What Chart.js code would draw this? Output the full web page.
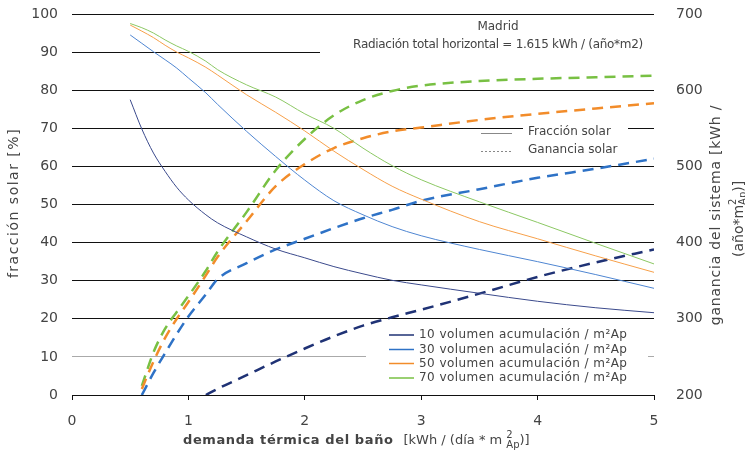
<!DOCTYPE html>
<html>
<head>
<meta charset="utf-8">
<script src="https://cdn.jsdelivr.net/npm/chart.js@4"></script>
<style>
  body { margin: 0; background: #fff; }
  #wrap { width: 745px; height: 456px; }
</style>
</head>
<body>
<div id="wrap"><canvas id="grafico"></canvas></div>
<script>
// demanda térmica del baño [kWh/(día*m2Ap)]
const demanda = [0.5, 0.6, 0.7, 0.8, 0.9, 1.0, 1.15, 1.25, 1.5, 1.75, 2.0, 2.25, 2.5, 2.75, 3.0, 3.5, 4.0, 4.5, 5.0];

// fracción solar [%] (eje izquierdo)
const fraccion10 = [77.5, 69.8, 63.5, 58.7, 54.5, 51.2, 47.3, 45.2, 41.5, 38.3, 36.0, 33.7, 31.8, 30.1, 28.9, 26.7, 24.6, 22.9, 21.6];
const fraccion30 = [94.5, 92.3, 90.1, 88, 85.8, 83.2, 79.3, 76.3, 69.2, 62.6, 56.4, 51, 47.3, 44.2, 41.8, 38.2, 35.0, 31.6, 28.0];
const fraccion50 = [97.1, 95.5, 93.8, 91.8, 90, 88.5, 86, 84, 78.8, 74.2, 69.3, 64, 59.2, 54.8, 51.4, 45.5, 41.0, 36.5, 32.2];
const fraccion70 = [97.5, 96.4, 95, 93.2, 91.6, 90.2, 87.6, 85.4, 81.4, 78.2, 73.8, 70, 64.8, 60.2, 56.5, 50.7, 45.3, 39.8, 34.4];

// ganancia del sistema [kWh/(año*m2Ap)] (eje derecho)
const ganancia10 = [null, null, null, null, null, null, 200, 208, 226, 244, 261, 277, 291, 302, 312, 333, 355, 374, 391];
const ganancia30 = [null, 200, 229, 255, 280, 303, 332, 352, 373, 391, 405, 419, 432, 443, 455, 470, 485, 497, 510];
const ganancia50 = [null, 208, 244, 275, 300, 322, 357, 381, 428, 474, 503, 524, 537, 546, 551, 561, 569, 576, 583];
const ganancia70 = [null, 212, 256, 287, 309, 330, 363, 388, 440, 495, 536, 567, 587, 599, 606, 612, 615, 617, 619];

const volumenes = ['10', '30', '50', '70'];
const coloresSolido = ['#3b4a8c', '#4f86d2', '#f7a04a', '#8cc864'];
const coloresDiscont = ['#1f3275', '#2e72c6', '#f28c2a', '#78c043'];

const xTicks = [0, 1, 2, 3, 4, 5];

const FUENTE = '"DejaVu Sans", sans-serif';
const GRIS = '#444';

function puntos(vals) {
    return demanda.map((x, i) => ({ x: x, y: vals[i] }));
}

const fracciones = [fraccion10, fraccion30, fraccion50, fraccion70];
const ganancias = [ganancia10, ganancia30, ganancia50, ganancia70];

const datasets = [];
fracciones.forEach((f, i) => {
    datasets.push({
        label: volumenes[i] + ' fracción',
        data: puntos(f),
        yAxisID: 'y',
        borderColor: coloresSolido[i],
        borderWidth: 1,
        pointRadius: 0,
        cubicInterpolationMode: 'monotone',
        fill: false
    });
});
ganancias.forEach((g, i) => {
    datasets.push({
        label: volumenes[i] + ' ganancia',
        data: puntos(g),
        yAxisID: 'y2',
        borderColor: coloresDiscont[i],
        borderWidth: 2.5,
        borderDash: [11, 7],
        pointRadius: 0,
        cubicInterpolationMode: 'monotone',
        fill: false
    });
});

// tapa las líneas de rejilla detrás de los textos
const tapas = {
    id: 'tapas',
    beforeDatasetsDraw(chart) {
        const ctx = chart.ctx;
        ctx.save();
        ctx.fillStyle = '#fff';
        ctx.fillRect(320, 17, 345, 42);
        ctx.fillRect(523, 121, 105, 38);
        ctx.fillRect(366, 326, 282, 66);
        ctx.restore();
    }
};

function texto(ctx, s, x, y, font, align, spacing) {
    ctx.font = font;
    ctx.letterSpacing = (spacing || 0) + 'px';
    ctx.textAlign = align || 'left';
    ctx.fillText(s, x, y);
    return ctx.measureText(s).width;
}

const textos = {
    id: 'textos',
    afterDraw(chart) {
        const ctx = chart.ctx;
        ctx.save();
        ctx.fillStyle = GRIS;
        ctx.textBaseline = 'middle';

        // anotación
        texto(ctx, 'Madrid', 498, 27, '12px ' + FUENTE, 'center');
        texto(ctx, 'Radiación total horizontal = 1.615 kWh / (año*m2)', 498, 45, '12px ' + FUENTE, 'center', -0.3);

        // leyenda de tipo de línea
        ctx.strokeStyle = '#888';
        ctx.lineWidth = 1;
        ctx.beginPath(); ctx.moveTo(481, 133.5); ctx.lineTo(512, 133.5); ctx.stroke();
        ctx.setLineDash([2, 2]);
        ctx.beginPath(); ctx.moveTo(481, 151.5); ctx.lineTo(512, 151.5); ctx.stroke();
        ctx.setLineDash([]);
        texto(ctx, 'Fracción solar', 528, 132, '12px ' + FUENTE, 'left');
        texto(ctx, 'Ganancia solar', 528, 150, '12px ' + FUENTE, 'left');

        // leyenda de volúmenes
        const filas = [335, 349.5, 363.5, 378];
        volumenes.forEach((v, i) => {
            ctx.strokeStyle = coloresDiscont[i];
            ctx.lineWidth = 1.5;
            ctx.beginPath(); ctx.moveTo(389, filas[i]); ctx.lineTo(414, filas[i]); ctx.stroke();
            texto(ctx, v + ' volumen acumulación / m²Ap', 419, filas[i], '12px ' + FUENTE, 'left', 0.45);
        });

        // título eje izquierdo
        ctx.save();
        ctx.translate(14, 203);
        ctx.rotate(-Math.PI / 2);
        texto(ctx, 'fracción solar [%]', 0, 0, '14px ' + FUENTE, 'center', 1.5);
        ctx.restore();

        // título eje derecho
        ctx.save();
        ctx.translate(716, 215);
        ctx.rotate(-Math.PI / 2);
        texto(ctx, 'ganancia del sistema [kWh /', 0, 0, '14px ' + FUENTE, 'center', 0.8);
        ctx.translate(0, 23);
        let x0 = -42;
        x0 += texto(ctx, '(año*m', x0, 0, '14px ' + FUENTE, 'left');
        texto(ctx, '2', x0, -6, '10px ' + FUENTE, 'left');
        x0 += texto(ctx, 'Ap', x0, 4, '10px ' + FUENTE, 'left');
        texto(ctx, ')]', x0, 0, '14px ' + FUENTE, 'left');
        ctx.restore();

        // título eje x
        let x = 183;
        const y = 441;
        x += texto(ctx, 'demanda térmica del baño', x, y, 'bold 13px ' + FUENTE, 'left', 0.6);
        x += 10;
        x += texto(ctx, '[kWh / (día * m ', x, y, '13px ' + FUENTE, 'left');
        texto(ctx, '2', x, y - 6, '10px ' + FUENTE, 'left');
        x += texto(ctx, 'Ap', x, y + 4, '10px ' + FUENTE, 'left');
        texto(ctx, ')]', x, y, '13px ' + FUENTE, 'left');
        ctx.restore();
    }
};

function sinRelleno(s) {
    s.paddingTop = 0;
    s.paddingBottom = 0;
    s.paddingLeft = 0;
    s.paddingRight = 0;
}

new Chart(document.getElementById('grafico'), {
    type: 'line',
    data: { datasets: datasets },
    options: {
        responsive: true,
        maintainAspectRatio: false,
        animation: false,
        layout: { padding: { top: 14, left: 0, right: 0, bottom: 0 } },
        plugins: {
            legend: { display: false },
            tooltip: { enabled: false }
        },
        scales: {
            x: {
                type: 'linear',
                min: 0,
                max: 5,
                afterBuildTicks: (s) => { s.ticks = xTicks.map(v => ({ value: v })); },
                afterFit: (s) => { s.height = 61; sinRelleno(s); },
                grid: { drawOnChartArea: false, drawTicks: true, tickLength: 5, color: '#111' },
                border: { display: true, color: '#111', width: 1 },
                ticks: { color: GRIS, font: { family: FUENTE, size: 14 }, padding: 13 }
            },
            y: {
                position: 'left',
                min: 0,
                max: 100,
                afterFit: (s) => { s.width = 72; sinRelleno(s); },
                grid: {
                    drawTicks: false,
                    color: (c) => (c.tick && c.tick.value === 10 ? '#aaaaaa' : '#111'),
                    lineWidth: 1
                },
                border: { display: false },
                ticks: { stepSize: 10, color: GRIS, font: { family: FUENTE, size: 14 }, padding: 14 }
            },
            y2: {
                position: 'right',
                min: 200,
                max: 700,
                afterFit: (s) => { s.width = 91; sinRelleno(s); },
                grid: { display: false, drawOnChartArea: false },
                border: { display: false },
                ticks: { stepSize: 100, color: GRIS, font: { family: FUENTE, size: 14 }, padding: 14 }
            }
        }
    },
    plugins: [tapas, textos]
});
</script>
</body>
</html>
